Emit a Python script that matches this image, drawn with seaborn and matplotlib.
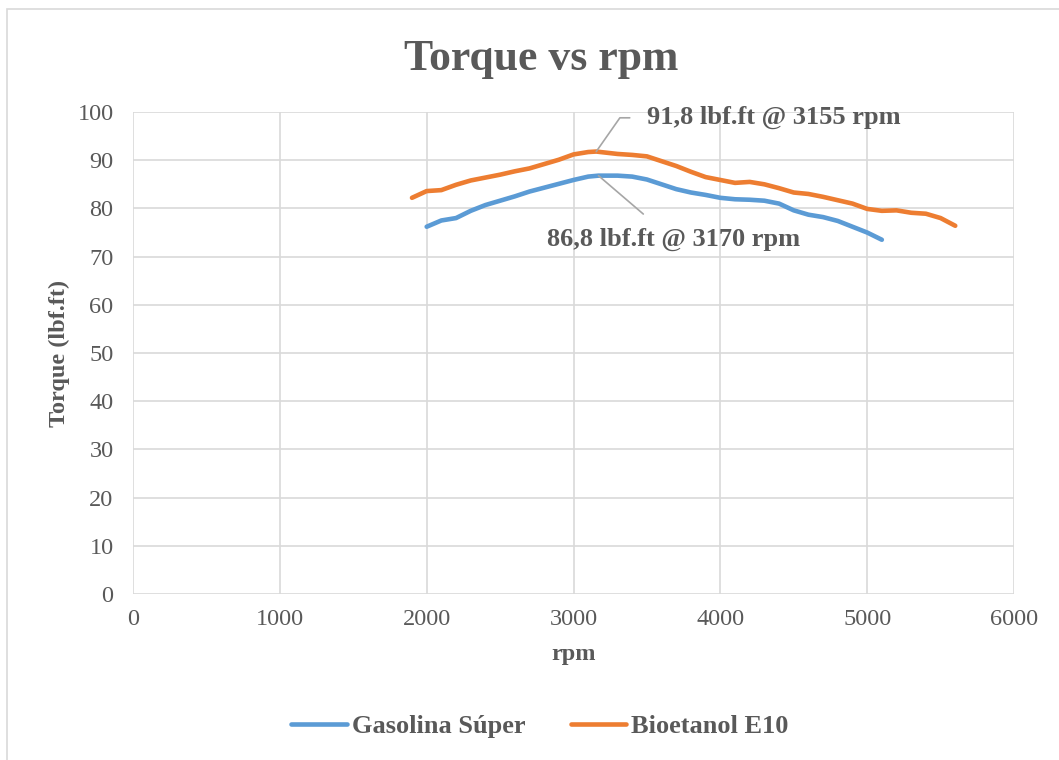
"""
Torque vs rpm: Gasolina Súper vs Bioetanol E10
"""

import matplotlib
matplotlib.use("Agg")
import matplotlib.pyplot as plt
from matplotlib.patches import Rectangle
import pandas as pd
import seaborn as sns

# ---------------------------------------------------------------------------
# DATA
# ---------------------------------------------------------------------------
rpm_super = [2000, 2100, 2200, 2300, 2400, 2500, 2600, 2700, 2800, 2900, 3000,
             3100, 3170, 3300, 3400, 3500, 3600, 3700, 3800, 3900, 4000, 4100,
             4200, 4300, 4400, 4500, 4600, 4700, 4800, 4900, 5000, 5100]
torque_super = [76.2, 77.5, 78.0, 79.5, 80.7, 81.6, 82.5, 83.5, 84.3, 85.1, 85.9,
                86.6, 86.8, 86.8, 86.6, 86.0, 85.0, 84.0, 83.3, 82.8, 82.2, 81.9,
                81.8, 81.6, 81.0, 79.6, 78.7, 78.2, 77.4, 76.2, 75.0, 73.5]

rpm_e10 = [1900, 2000, 2100, 2200, 2300, 2400, 2500, 2600, 2700, 2800, 2900,
           3000, 3100, 3155, 3300, 3400, 3500, 3600, 3700, 3800, 3900, 4000,
           4100, 4200, 4300, 4400, 4500, 4600, 4700, 4800, 4900, 5000, 5100,
           5200, 5300, 5400, 5500, 5600]
torque_e10 = [82.2, 83.6, 83.8, 84.9, 85.8, 86.4, 87.0, 87.7, 88.3, 89.2, 90.1,
              91.2, 91.7, 91.8, 91.3, 91.1, 90.8, 89.8, 88.8, 87.6, 86.5, 85.9,
              85.3, 85.5, 85.0, 84.2, 83.3, 83.0, 82.4, 81.7, 81.0, 79.9, 79.5,
              79.6, 79.1, 78.9, 78.0, 76.4]

series_names = ["Gasolina Súper", "Bioetanol E10"]
peak_labels = ["86,8 lbf.ft @ 3170 rpm", "91,8 lbf.ft @ 3155 rpm"]

BLUE = "#5B9BD5"
ORANGE = "#ED7D31"
TEXT = "#595959"
GRID = "#D9D9D9"

df = pd.concat([
    pd.DataFrame({"rpm": rpm_super, "torque": torque_super, "serie": series_names[0]}),
    pd.DataFrame({"rpm": rpm_e10, "torque": torque_e10, "serie": series_names[1]}),
])

# ---------------------------------------------------------------------------
# PLOT
# ---------------------------------------------------------------------------
sns.set_theme(style="white")
plt.rcParams["font.family"] = ["Liberation Serif", "DejaVu Serif"]

fig = plt.figure(figsize=(10.59, 7.6), dpi=100)
ax = fig.add_axes([0.1256, 0.2184, 0.8319, 0.6342])

# outer chart border like Excel (only left/top/right visible)
fig.patches.append(Rectangle((7 / 1059, -0.1), 1.2, (760 - 9) / 760 + 0.1,
                             transform=fig.transFigure, fill=False,
                             edgecolor=GRID, linewidth=1.2))

sns.lineplot(data=df, x="rpm", y="torque", hue="serie",
             palette=[BLUE, ORANGE], linewidth=3.3, ax=ax, sort=False)

ax.set_xlim(0, 6000)
ax.set_ylim(0, 100)
ax.set_xticks(range(0, 6001, 1000))
ax.set_yticks(range(0, 101, 10))
ax.grid(True, color=GRID, linewidth=1.2)
for s in ax.spines.values():
    s.set_visible(False)
ax.tick_params(length=0, labelsize=17.5, colors=TEXT)
ax.tick_params(axis="x", pad=11)
ax.tick_params(axis="y", pad=14)

ax.set_xlabel("rpm", fontsize=17.5, fontweight="bold", color=TEXT, labelpad=10)
ax.set_ylabel("Torque (lbf.ft)", fontsize=17.5, fontweight="bold", color=TEXT,
              labelpad=5)
fig.text(0.511, 0.923, "Torque vs rpm", ha="center", va="center",
         fontsize=31.5, fontweight="bold", color=TEXT)

# peak annotations
ax.annotate(peak_labels[1], xy=(3155, 91.8), xytext=(3500, 98.8),
            fontsize=19, fontweight="bold", color=TEXT, va="center", ha="left",
            arrowprops=dict(arrowstyle="-", color="#A6A6A6", lw=1.2,
                            connectionstyle="angle,angleA=0,angleB=55,rad=0",
                            shrinkA=10, shrinkB=0))
ax.annotate(peak_labels[0], xy=(3170, 86.8), xytext=(3680, 73.5),
            fontsize=19, fontweight="bold", color=TEXT, va="center", ha="center",
            arrowprops=dict(arrowstyle="-", color="#A6A6A6", lw=1.2,
                            shrinkA=12, shrinkB=0))

# legend at the bottom
handles, labels = ax.get_legend_handles_labels()
ax.legend(handles, labels, loc="center", bbox_to_anchor=(0.462, -0.275),
          ncol=2, frameon=False, handlelength=2.1, columnspacing=1.7,
          handletextpad=0.2, prop={"size": 19, "weight": "bold"},
          labelcolor=TEXT)

fig.savefig("out.png", dpi=100)
